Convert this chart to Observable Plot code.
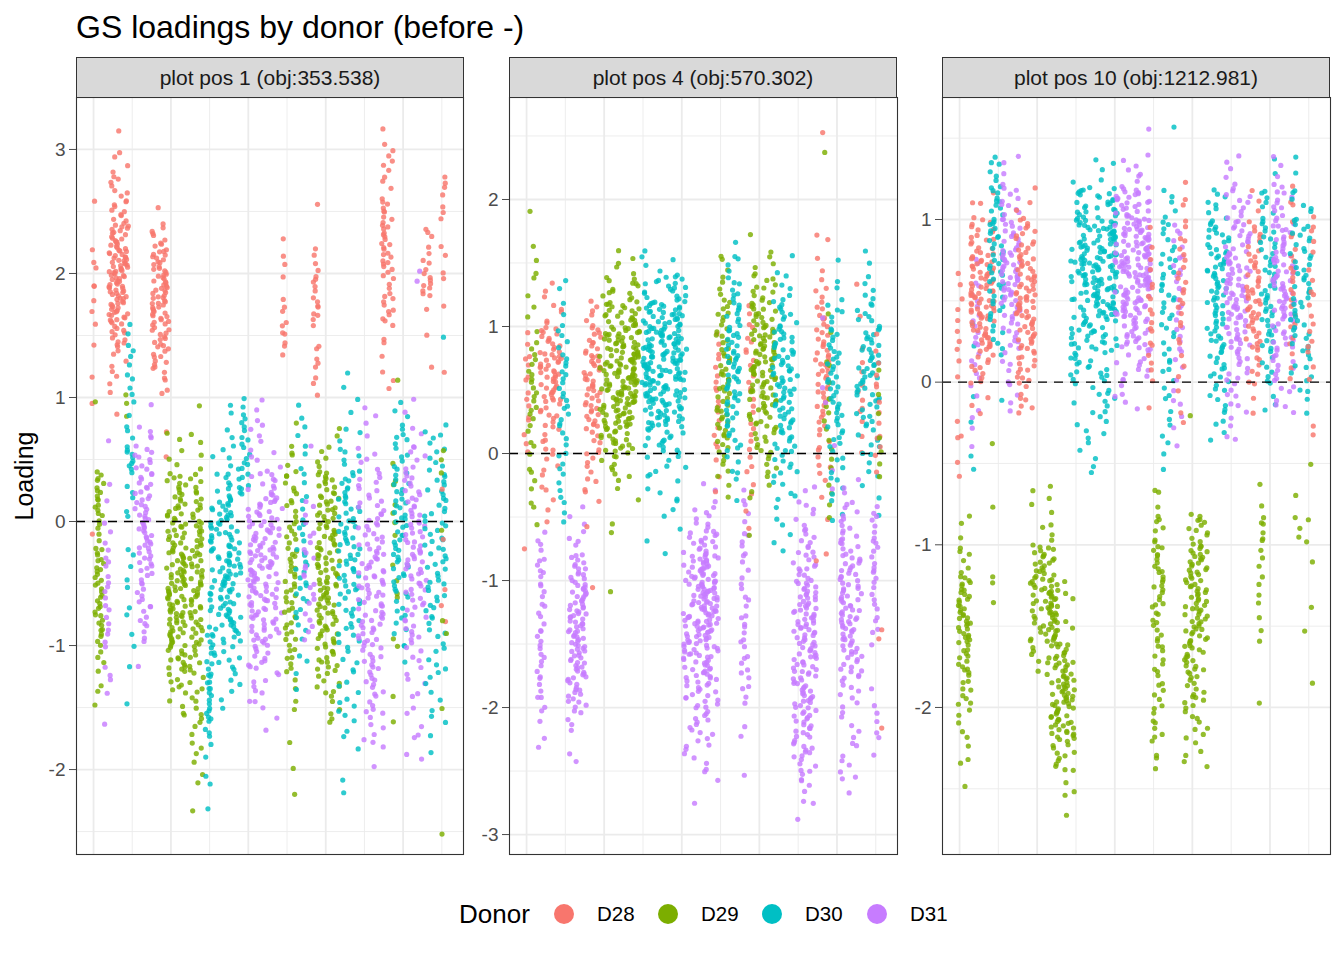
<!DOCTYPE html>
<html>
<head>
<meta charset="utf-8">
<script src="https://cdn.jsdelivr.net/npm/d3@7"></script>
<script src="https://cdn.jsdelivr.net/npm/@observablehq/plot@0.6"></script>
<style>
  html, body { margin: 0; padding: 0; background: #fff; }
  #chart { position: relative; width: 1344px; height: 960px; font-family: "Liberation Sans", Arial, Helvetica, sans-serif; color: #000; }
  .abs { position: absolute; white-space: nowrap; }
  .strip { position: absolute; box-sizing: border-box; background: #D9D9D9; border: 1.1px solid #333; color: #1A1A1A; font-size: 21px; display: flex; align-items: center; justify-content: center; }
  .key { position: absolute; width: 20px; height: 20px; border-radius: 50%; }
</style>
</head>
<body>
<div id="chart"></div>
<script>
// ---------------- data ----------------
const titleText = "GS loadings by donor (before -)";
const yLabel = "Loading";
const legendTitle = "Donor";
const donors = ["D28", "D29", "D30", "D31"];
const donorColors = ["#F8766D", "#7CAE00", "#00BFC4", "#C77CFF"];
const panelTitles = ["plot pos 1 (obj:353.538)", "plot pos 4 (obj:570.302)", "plot pos 10 (obj:1212.981)"];
const panel1Ticks = [3, 2, 1, 0, -1, -2];
const panel2Ticks = [2, 1, 0, -1, -2, -3];
const panel3Ticks = [1, 0, -1, -2];
const panel1Domain = [-2.685, 3.419];
const panel2Domain = [-3.157, 2.803];
const panel3Domain = [-2.904, 1.75];
const sampleSlots = [1, 2, 3, 4, 5, 6, 7, 8, 9, 10];
const BIN = 0.2; // width of the loading bins used for the per-sample counts

// Each sample column: [donor, sample position, spread, lowest bin start, cell counts per 0.2-wide loading bin (upwards)]
const panel1Columns = [
  ["D28", 1.03, 0.07, -0.2, [1,0,0,0,0,1,1,0,2,2,2,3,0,1]],
  ["D29", 1.15, 0.12, -1.6, [1,3,3,8,9,9,9,4,8,9,0,0,1]],
  ["D31", 1.34, 0.10, -1.8, [1,0,3,2,4,4,4,4,3,1,1,0,1]],
  ["D28", 1.65, 0.25, 0.8, [1,3,5,13,22,25,27,19,11,7,4,1]],
  ["D29", 1.85, 0.03, 0.8, [2,1]],
  ["D30", 1.95, 0.10, -1.6, [1,0,2,1,2,2,3,0,3,3,8,4,2,4,3,3]],
  ["D31", 2.29, 0.22, -1.2, [1,5,7,8,12,14,12,11,9,5,1]],
  ["D28", 2.73, 0.22, 0.4, [1,1,0,4,11,14,19,19,16,9,1]],
  ["D29", 3.14, 0.25, -1.6, [4,8,14,17,20,20,17,14,13,10,3,2]],
  ["D29", 3.66, 0.18, -2.4, [1,2,3,4,5,5,7,10,11,11,11,10,8,6,2,2,1]],
  ["D30", 3.97, 0.08, -2.4, [1,2,1,5,7,6,3,2]],
  ["D30", 4.41, 0.40, -1.6, [3,6,11,17,20,22,22,20,17,11,5,3,2]],
  ["D30", 4.92, 0.12, 0.2, [5,6,6,4]],
  ["D31", 5.44, 0.45, -1.8, [1,4,7,11,17,21,24,24,21,18,12,6,4,3]],
  ["D28", 5.93, 0.07, 1.2, [1,5,4,1,2,1]],
  ["D29", 6.08, 0.17, -2.2, [1,1,1,2,3,6,8,8,9,8,7,6,6,4,2]],
  ["D30", 6.37, 0.15, -1.4, [2,2,3,5,6,6,4,3,3,2,3,2]],
  ["D31", 6.57, 0.15, -1.0, [3,4,5,5,4,3,0,0,1]],
  ["D28", 6.75, 0.08, 1.0, [3,4,2,6,6,4,0,1]],
  ["D29", 7.06, 0.30, -1.8, [1,5,9,12,15,17,17,17,15,15,13,6,2]],
  ["D30", 7.61, 0.28, -2.2, [2,1,3,5,4,5,7,9,11,12,12,11,9,6,3,2,2]],
  ["D31", 8.17, 0.33, -2.0, [2,5,7,9,11,14,15,15,14,12,10,8,5,2,2]],
  ["D28", 8.59, 0.16, 1.0, [2,2,3,8,6,10,10,8,4,5,2]],
  ["D29", 8.79, 0.08, -1.8, [1,1,0,1,1,1,2,1,2,2,2,1,0,0,1]],
  ["D30", 8.95, 0.20, -1.2, [2,4,6,8,9,9,9,8,6,6,3]],
  ["D31", 9.32, 0.28, -2.0, [2,3,3,4,5,8,9,12,13,12,10,9,6,3,2]],
  ["D31", 9.34, 0.10, 1.8, [1,1]],
  ["D28", 9.62, 0.12, 1.2, [1,1,1,9,4,4]],
  ["D30", 9.83, 0.28, -2.0, [1,2,3,4,5,5,7,8,9,9,8,8,6,5]],
  ["D28", 10.03, 0.08, -1.0, [1,1,1,0,1,0,1,0,0,0,0,1,0,1,1,2,1,3,4]],
  ["D30", 10.03, 0.02, 1.4, [1]],
  ["D29", 10.06, 0.08, -2.6, [1,0,0,0,0,1,0,0,1,1,0,0,1,0,1,2]]
];
const panel2Columns = [
  ["D28", 1.00, 0.08, -0.8, [1,0,0,0,3,3,3,4,2]],
  ["D29", 1.15, 0.12, -0.6, [2,3,3,3,5,6,5,3,2,2,2,1,1]],
  ["D31", 1.39, 0.12, -2.4, [2,2,5,6,6,5,5,6,4]],
  ["D28", 1.62, 0.28, -0.6, [2,3,5,6,10,17,20,14,5,3]],
  ["D30", 1.95, 0.14, -0.6, [2,4,4,4,6,6,6,4,3,2]],
  ["D31", 2.29, 0.25, -2.6, [1,1,5,13,17,19,20,19,13,5,3]],
  ["D28", 2.70, 0.22, -1.2, [1,0,0,1,4,6,7,12,14,14,11,6]],
  ["D29", 3.40, 0.52, -1.2, [1,0,1,1,3,8,20,30,38,38,32,24,13,5]],
  ["D30", 4.55, 0.58, -0.8, [2,3,5,8,16,30,40,44,40,32,19,6]],
  ["D31", 5.49, 0.45, -2.8, [1,4,8,11,16,24,30,35,35,30,19,8,3]],
  ["D28", 5.90, 0.07, -0.4, [1,2,3,4,4,4,2]],
  ["D29", 6.08, 0.20, -0.4, [2,5,8,10,10,10,8,8,5,3]],
  ["D30", 6.34, 0.20, -0.4, [2,4,7,9,12,13,12,9,7,4,1]],
  ["D31", 6.63, 0.12, -2.6, [1,1,1,4,5,5,5,4,4,5,3,2]],
  ["D28", 6.75, 0.10, -0.6, [2,2,3,4,3,4,4,4,3]],
  ["D29", 7.09, 0.35, -0.8, [1,0,3,6,10,16,20,24,22,16,11,5,1]],
  ["D30", 7.66, 0.32, -0.8, [3,3,5,8,11,14,16,16,14,10,5,2]],
  ["D31", 8.17, 0.30, -3.0, [1,4,8,13,16,19,19,20,22,19,13,9,6,3]],
  ["D28", 8.64, 0.20, -1.0, [1,1,1,2,4,5,7,10,12,9,7,4,2,2,0,0,0,1]],
  ["D29", 8.77, 0.10, -0.6, [2,2,2,3,3,2,2,1,1,0,0,0,0,0,1]],
  ["D31", 8.87, 0.30, -0.4, [1,1,1,0,2,0,0,1]],
  ["D30", 8.95, 0.20, -0.6, [2,4,5,7,9,9,9,8,5,3,1]],
  ["D31", 9.36, 0.28, -2.8, [1,5,4,4,7,12,16,19,16,15,11,8,4]],
  ["D28", 9.59, 0.08, 0.0, [2,3,3,2,1,1,1]],
  ["D30", 9.80, 0.30, -0.6, [1,2,4,7,9,13,14,12,8,5,2]],
  ["D31", 9.98, 0.10, -2.4, [2,3,2,0,2,4,5,6,6,5]],
  ["D28", 10.06, 0.10, -2.2, [1,0,0,1,1,0,0,0,0,0,2,3,2,3,2,2]],
  ["D29", 10.11, 0.06, -0.2, [2,2,1,1,1]]
];
const panel3Columns = [
  ["D28", 1.00, 0.07, -0.6, [2,3,0,2,4,3,1]],
  ["D29", 1.13, 0.16, -2.6, [1,3,5,9,13,19,16,7,3]],
  ["D30", 1.34, 0.05, -0.6, [2,1,1,0,2]],
  ["D31", 1.41, 0.12, -0.4, [3,3,5,6,5,3]],
  ["D28", 1.59, 0.30, -0.2, [4,11,22,30,27,16,4]],
  ["D29", 1.85, 0.03, -1.4, [2,1,0,1,0,1]],
  ["D30", 1.95, 0.18, -0.2, [1,1,7,11,13,13,11,7]],
  ["D31", 2.29, 0.28, -0.2, [4,5,11,19,22,16,11,4]],
  ["D28", 2.70, 0.25, -0.2, [8,13,19,24,19,13,4]],
  ["D29", 3.17, 0.35, -1.8, [13,24,30,22,5,4]],
  ["D29", 3.66, 0.30, -2.8, [1,3,13,27,30,16,8,5]],
  ["D30", 4.46, 0.60, -0.6, [4,7,11,19,30,44,50,46,30,5]],
  ["D31", 5.46, 0.46, -0.2, [5,13,24,38,48,40,27,8,1]],
  ["D28", 5.93, 0.07, -0.4, [0,1,4,5,5,3,2]],
  ["D29", 6.11, 0.15, -2.4, [4,7,7,8,9,11,12,7,3]],
  ["D30", 6.37, 0.20, -0.6, [2,4,4,6,7,9,9,7,5,0,1]],
  ["D31", 6.63, 0.12, -0.4, [3,3,4,6,6,7,5]],
  ["D28", 6.73, 0.10, -0.4, [1,2,3,4,6,6,5,2,1]],
  ["D29", 6.96, 0.02, -0.4, [1]],
  ["D29", 7.09, 0.30, -2.4, [5,9,13,18,22,22,22,13]],
  ["D30", 7.66, 0.28, -0.4, [4,8,12,15,17,19,16,8]],
  ["D31", 8.17, 0.32, -0.4, [4,7,11,19,24,22,16,11,5]],
  ["D28", 8.56, 0.20, -0.2, [3,7,13,16,11,8,3]],
  ["D29", 8.77, 0.07, -2.0, [1,0,3,3,4,6,2]],
  ["D30", 8.95, 0.20, -0.2, [4,7,11,13,12,11,7,2]],
  ["D31", 9.36, 0.30, -0.2, [7,11,16,22,22,15,11,4]],
  ["D28", 9.59, 0.08, 0.0, [3,4,5,6,4,2,1]],
  ["D30", 9.80, 0.28, -0.2, [4,8,11,12,12,11,7,2]],
  ["D29", 9.80, 0.30, -2.2, [0,1,0,1,1,1,5,1,1]],
  ["D28", 10.06, 0.08, -0.4, [2,0,3,4,4,3,3,1]]
];

// ---------------- build ----------------
// deterministic jitter (like geom_jitter, but reproducible): integer hash -> [0, 1)
function jit(n) {
  n = n | 0;
  n = (n ^ 61) ^ (n >>> 16);
  n = n + (n << 3);
  n = n ^ (n >>> 4);
  n = Math.imul(n, 0x27d4eb2d);
  n = n ^ (n >>> 15);
  return (n >>> 0) / 4294967296;
}
// place each counted cell inside its bin and jitter it across its column
function cells(columns, seed) {
  const out = [];
  columns.forEach(([donor, x, spread, y0, counts], ci) => {
    let j = 0;
    counts.forEach((n, i) => {
      for (let k = 0; k < n; k++, j++) {
        const s = seed * 100000 + ci * 1000 + j;
        const a = jit(s * 2 + 1);
        const b = jit(s * 2 + 2);
        out.push({donor, x: x + spread * (2 * a - 1), y: y0 + BIN * (i + (k + b) / n)});
      }
    });
  });
  return out;
}

const FONT = '"Liberation Sans", Arial, Helvetica, sans-serif';
const chart = document.getElementById("chart");

function minorsOf(ticks, domain) {
  const out = [];
  const lo = Math.min(...ticks), hi = Math.max(...ticks);
  for (let v = lo - 0.5; v <= hi + 0.5; v += 1) if (v > domain[0] && v < domain[1]) out.push(v);
  return out;
}

function panel(columns, domain, ticks, left, width, marginLeft, seed) {
  const pts = cells(columns, seed);
  const xMajor = sampleSlots.filter((d, i) => i % 2 === 0);
  const xMinor = sampleSlots.filter((d, i) => i % 2 === 1);
  const svg = Plot.plot({
    width, height: 759,
    marginLeft, marginRight: 1, marginTop: 1, marginBottom: 1,
    x: {domain: [0.56, 10.56], axis: null},
    y: {domain},
    color: {domain: donors, range: donorColors},
    style: {fontFamily: FONT, fontSize: "19px", background: "transparent", overflow: "visible"},
    marks: [
      Plot.ruleY(minorsOf(ticks, domain), {stroke: "#EBEBEB", strokeWidth: 0.9}),
      Plot.ruleX(xMinor, {stroke: "#EBEBEB", strokeWidth: 0.9}),
      Plot.ruleY(ticks, {stroke: "#EBEBEB", strokeWidth: 1.8}),
      Plot.ruleX(xMajor, {stroke: "#EBEBEB", strokeWidth: 1.8}),
      Plot.dot(pts, {x: "x", y: "y", r: 2.6, fill: "donor", fillOpacity: 0.82}),
      Plot.ruleY([0], {stroke: "#000", strokeDasharray: "9,7", strokeWidth: 1.3}),
      Plot.frame({stroke: "#333", strokeWidth: 1.1}),
      Plot.axisY({ticks, tickSize: 7, tickPadding: 4, fontSize: 19, color: "#4D4D4D", label: null, tickFormat: d => String(d)})
    ]
  });
  svg.style.position = "absolute";
  svg.style.left = left + "px";
  svg.style.top = "96px";
  chart.appendChild(svg);
}

panel(panel1Columns, panel1Domain, panel1Ticks, 0, 464, 76, 1);
panel(panel2Columns, panel2Domain, panel2Ticks, 464, 434, 45, 2);
panel(panel3Columns, panel3Domain, panel3Ticks, 898, 433, 44, 3);

// strips
const stripLefts = [76, 509, 942];
panelTitles.forEach((t, i) => {
  const d = document.createElement("div");
  d.className = "strip";
  d.style.left = stripLefts[i] + "px";
  d.style.top = "57px";
  d.style.width = "388px";
  d.style.height = "41px";
  d.textContent = t;
  chart.appendChild(d);
});

// title
const title = document.createElement("div");
title.className = "abs";
Object.assign(title.style, {left: "76px", top: "11px", fontSize: "32px", lineHeight: "1"});
title.textContent = titleText;
chart.appendChild(title);

// y label
const yl = document.createElement("div");
yl.className = "abs";
Object.assign(yl.style, {left: "24px", top: "476px", fontSize: "25px", lineHeight: "1", transform: "translate(-50%,-50%) rotate(-90deg)"});
yl.textContent = yLabel;
chart.appendChild(yl);

// legend
const legendY = 914;
const lt = document.createElement("div");
lt.className = "abs";
Object.assign(lt.style, {left: "459px", top: legendY + "px", fontSize: "26px", lineHeight: "1", transform: "translateY(-50%)"});
lt.textContent = legendTitle;
chart.appendChild(lt);
const keyX = [564, 668, 772, 877];
donors.forEach((dn, i) => {
  const c = document.createElement("div");
  c.className = "key";
  Object.assign(c.style, {left: (keyX[i] - 10) + "px", top: (legendY - 10) + "px", background: donorColors[i]});
  chart.appendChild(c);
  const l = document.createElement("div");
  l.className = "abs";
  Object.assign(l.style, {left: (keyX[i] + 33) + "px", top: legendY + "px", fontSize: "20.5px", lineHeight: "1", transform: "translateY(-50%)"});
  l.textContent = dn;
  chart.appendChild(l);
});
</script>
</body>
</html>
